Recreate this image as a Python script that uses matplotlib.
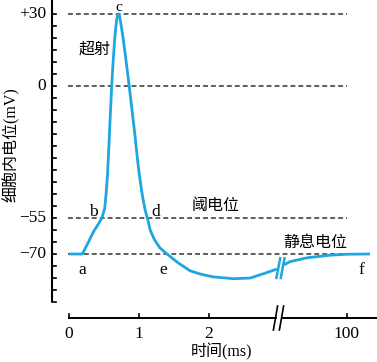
import matplotlib
matplotlib.use("Agg")
import matplotlib.pyplot as plt
import numpy as np

# ---- data ----
# before the axis break: time in ms, membrane potential in mV
t_pre = [0, 0.19, 0.27, 0.35, 0.42, 0.47, 0.51, 0.53, 0.55, 0.57, 0.59, 0.61,
         0.63, 0.65, 0.665, 0.68, 0.69, 0.70, 0.71, 0.72, 0.73, 0.745, 0.77,
         0.80, 0.83, 0.86,
         0.90, 0.94, 0.98, 1.01, 1.05, 1.09, 1.12, 1.16, 1.22, 1.30, 1.40,
         1.55, 1.73, 1.87, 2.05, 2.35, 2.59, 2.82, 2.97]
v_pre = [-70, -70, -65.5, -60.7, -57.5, -55, -51, -45, -37, -25, -12, 0,
         10, 18.5, 23.5, 27.2, 29.0, 29.9, 30, 29.4, 28.0, 25.3, 20.5,
         14, 7, 0,
         -10, -20, -31, -38, -46, -52, -55, -60, -64, -67.5, -70,
         -73.5, -77, -78.3, -79.5, -80.3, -80, -77.8, -76.3]
# after the axis break: time in ms
t_post = [7.4, 16, 41, 75, 100, 134]
v_post = [-74.5, -73.2, -71.6, -70.5, -70.1, -70]

ytick_vals = [30, 0, -55, -70]
ytick_labels = ["+30", "0", "\u221255", "\u221270"]
xtick_times = [0, 1, 2, 100]
xtick_labels = ["0", "1", "2", "100"]
ref_levels = [30, 0, -55, -70]

point_labels = ["a", "b", "c", "d", "e", "f"]
point_t = [0.19, 0.47, 0.71, 1.12, 1.40, 100]
point_v = [-70, -55, 30, -55, -70, -70]

# ---- mapping of post-break times onto the compressed axis ----
BREAK_X = 3.0
POST_SCALE = 0.0097


def post_x(t):
    return BREAK_X + POST_SCALE * np.asarray(t, dtype=float)


def tx(t):
    t = np.asarray(t, dtype=float)
    return np.where(t > 3.0, post_x(t), t)


fam = ["Liberation Serif", "Noto Sans CJK SC"]
plt.rcParams["font.family"] = fam
blue = "#1ea6e0"

fig = plt.figure(figsize=(3.77, 3.62), dpi=100)
W, H = 377, 362
ax = fig.add_axes([52 / W, 44 / H, 325 / W, 318 / H])
x0, x1 = (52 - 69) / 70, (377 - 69) / 70
y0, y1 = (86 - 318) / 2.4, 86 / 2.4
ax.set_xlim(x0, x1)
ax.set_ylim(y0, y1)
for s in ax.spines.values():
    s.set_visible(False)
ax.set_xticks([])
ax.set_yticks([])

# left axis line with inward ticks every 5 mV
ax.plot([x0, x0], [-90, y1], color="black", lw=1.5, clip_on=False,
        solid_capstyle="butt")
tick_len = 4 / 70
for v in np.arange(-90, 31, 5):
    ax.plot([x0, x0 + tick_len], [v, v], color="black", lw=1.2,
            clip_on=False)
for v, lab in zip(ytick_vals, ytick_labels):
    ax.text(x0 - 0.08, v, lab, ha="right", va="center", fontsize=12.5,
            family=fam)

# bottom axis (with break)
ybase = y0
xb1 = (275.5 - 69) / 70
xb2 = (281.5 - 69) / 70
ax.plot([0, xb1], [ybase, ybase], color="black", lw=1.4, clip_on=False)
ax.plot([xb2, x1], [ybase, ybase], color="black", lw=1.4, clip_on=False)
for xb in (xb1, xb2):
    ax.plot([xb - 0.03, xb + 0.03], [ybase - 5, ybase + 5], color="black",
            lw=1.2, clip_on=False)
tlen_y = 4 / 2.4
for t, lab in zip(xtick_times, xtick_labels):
    xx = float(tx(t))
    ax.plot([xx, xx], [ybase, ybase + tlen_y], color="black", lw=1.2,
            clip_on=False)
    ax.text(xx, ybase - 3.5, lab, ha="center", va="top", fontsize=12.5,
            family=fam)

# dashed reference lines
dash_end = float(tx(100))
for v in ref_levels:
    ax.plot([-0.01, dash_end], [v, v], color="#333333", lw=1.1,
            dashes=(3.2, 2.0))

# the action potential curve
ax.plot(tx(t_pre), v_pre, color=blue, lw=2.0, solid_capstyle="butt",
        solid_joinstyle="round")
ax.plot(post_x(t_post), v_post, color=blue, lw=2.0, solid_capstyle="butt")

# break marks on the curve
xa = t_pre[-1]
xc = float(post_x(t_post[0]))
for xm in (xa + 0.02, xc - 0.02):
    ax.plot([xm - 0.027, xm + 0.027], [-80.0, -71.8], color=blue, lw=1.8)

# point letters
offs = {"a": (0.0, -6.5), "b": (-0.12, 2.5), "d": (0.12, 2.5),
        "e": (-0.05, -6.5), "f": (0.2, -6.5)}
for lab, t, v in zip(point_labels, point_t, point_v):
    if lab == "c":
        # baseline just above the peak so the letter stays inside the figure
        ax.text(float(tx(t)), v + 1.4, lab, ha="center", va="baseline",
                fontsize=11, family=fam)
        continue
    dx, dy = offs[lab]
    ax.text(float(tx(t)) + dx, v + dy, lab, ha="center", va="center",
            fontsize=12.5, family=fam)

# Chinese annotations
ax.text((95 - 69) / 70, (86 - 50) / 2.4, "超射", ha="center", va="center",
        fontsize=11.5, family=fam)
ax.text((216 - 69) / 70, (86 - 206) / 2.4, "阈电位", ha="center",
        va="center", fontsize=11.5, family=fam)
ax.text((315 - 69) / 70, (86 - 243) / 2.4, "静息电位", ha="center",
        va="center", fontsize=11.5, family=fam)

# axis titles
fig.text(11 / W, 1 - 145 / H, "细胞内电位(mV)", rotation=90, ha="center",
         va="center", fontsize=11.5, family=fam)
fig.text(222 / W, 1 - 352 / H, "时间(ms)", ha="center", va="center",
         fontsize=11.5, family=fam)

fig.savefig("out.png", dpi=100)
